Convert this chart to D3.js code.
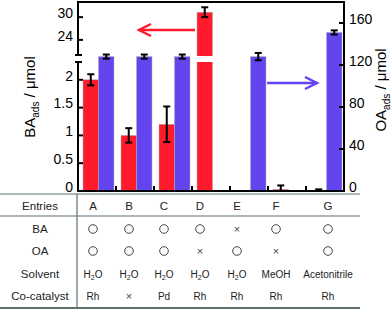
<!DOCTYPE html>
<html>
<head>
<meta charset="utf-8">
<script src="https://cdn.jsdelivr.net/npm/d3@7"></script>
<style>
  body { margin: 0; background: #fff; }
  svg { display: block; font-family: "Liberation Sans", Arial, sans-serif; }
</style>
</head>
<body>
<svg id="chart" width="392" height="311"></svg>
<script>
/***** Data *****/
var entries = ["A", "B", "C", "D", "E", "F", "G"];
var baValues = [2.0, 1.0, 1.2, 31.3, 0, 0.03, 0.01];
var baErrors = [0.1, 0.13, 0.32, 1.3, 0, 0.07, 0.02];
var oaValues = [128, 128, 128, 0, 128, 0, 151];
var oaErrors = [1.5, 1.5, 1.5, 0, 3, 0, 1.5];
var baUsed = [true, true, true, true, false, true, true];
var oaUsed = [true, true, true, false, true, false, true];
var solvents = ["H2O", "H2O", "H2O", "H2O", "H2O", "MeOH", "Acetonitrile"];
var cocatalysts = ["Rh", "×", "Pd", "Rh", "Rh", "Rh", "Rh"];
var leftTicksLow = [0, 0.5, 1, 1.5, 2];
var leftTicksHigh = [24, 30];
var rightTicks = [0, 40, 80, 120, 160];
var rowLabels = ["Entries", "BA", "OA", "Solvent", "Co-catalyst"];

var RED = "#ff1a2c", BLUE = "#6444ee", LINE = "#5e7070";

/***** Layout *****/
var plotLeft = 78, plotRight = 344, plotTop = 2, plotBottom = 191;
var breakLow = 62, breakHigh = 55;

var svg = d3.select("#chart");

var x = d3.scaleBand().domain(entries).range([plotLeft, plotRight]).padding(0);
var yLow = d3.scaleLinear().domain([0, 2.32]).range([plotBottom, breakLow]);
var yHigh = d3.scaleLinear().domain([20, 34]).range([breakHigh, plotTop]);
var yRight = d3.scaleLinear().domain([0, 180]).range([plotBottom, plotTop]);

function yBA(v) { return v > 2.32 ? yHigh(v) : yLow(v); }

var barW = 15.5;
function redX(d) { return x(d) + 5; }
function blueX(d) { return x(d) + 20.5; }

/***** Bars *****/
var g = svg.append("g");

g.selectAll("rect.ba")
    .data(entries.filter(function(d, i) { return baValues[i] > 0; }))
    .enter().append("rect")
    .attr("class", "ba")
    .attr("x", redX)
    .attr("width", barW)
    .attr("y", function(d) { return yBA(baValues[entries.indexOf(d)]); })
    .attr("height", function(d) { return plotBottom - yBA(baValues[entries.indexOf(d)]); })
    .attr("fill", RED)
    .attr("stroke", "#b0b0b0")
    .attr("stroke-width", 0.5);

g.selectAll("rect.oa")
    .data(entries.filter(function(d, i) { return oaValues[i] > 0; }))
    .enter().append("rect")
    .attr("class", "oa")
    .attr("x", blueX)
    .attr("width", barW)
    .attr("y", function(d) { return yRight(oaValues[entries.indexOf(d)]); })
    .attr("height", function(d) { return plotBottom - yRight(oaValues[entries.indexOf(d)]); })
    .attr("fill", BLUE)
    .attr("stroke", "#b0b0b0")
    .attr("stroke-width", 0.5);

// gap through the broken bar
entries.forEach(function(d, i) {
    if (baValues[i] > 2.32) {
        g.append("rect")
            .attr("x", redX(d) - 1).attr("width", barW + 2)
            .attr("y", breakHigh + 1).attr("height", breakLow - breakHigh - 1)
            .attr("fill", "#fff");
    }
});

/***** Error bars *****/
function errorBar(cx, yTop, yBot) {
    g.append("line").attr("x1", cx).attr("x2", cx).attr("y1", yTop).attr("y2", yBot)
        .attr("stroke", "#000").attr("stroke-width", 2);
    [yTop, yBot].forEach(function(yy) {
        g.append("line").attr("x1", cx - 3.5).attr("x2", cx + 3.5).attr("y1", yy).attr("y2", yy)
            .attr("stroke", "#000").attr("stroke-width", 2);
    });
}

entries.forEach(function(d, i) {
    if (baErrors[i] > 0) {
        var v = baValues[i], e = baErrors[i];
        errorBar(redX(d) + barW / 2, yBA(v + e), yBA(Math.max(0, v - e)));
    }
    if (oaErrors[i] > 0) {
        var w = oaValues[i], f = oaErrors[i];
        errorBar(blueX(d) + barW / 2, yRight(w + f) - 0.5, yRight(w - f) + 0.5);
    }
});

/***** Axes *****/
var axis = svg.append("g").attr("stroke", "#000").attr("stroke-width", 2).attr("fill", "none");
// left axis with break
axis.append("line").attr("x1", plotLeft).attr("x2", plotLeft).attr("y1", plotBottom + 1).attr("y2", breakLow);
axis.append("line").attr("x1", plotLeft).attr("x2", plotLeft).attr("y1", breakHigh).attr("y2", plotTop - 1);
[breakLow, breakHigh].forEach(function(yy) {
    axis.append("line").attr("x1", plotLeft - 3).attr("x2", plotLeft + 4).attr("y1", yy).attr("y2", yy);
});
// right, top, bottom
axis.append("line").attr("x1", plotRight).attr("x2", plotRight).attr("y1", plotTop - 1).attr("y2", plotBottom + 1);
axis.append("line").attr("x1", plotLeft).attr("x2", plotRight).attr("y1", plotTop).attr("y2", plotTop);
axis.append("line").attr("x1", plotLeft).attr("x2", plotRight).attr("y1", plotBottom).attr("y2", plotBottom);

// ticks between groups
entries.slice(1).forEach(function(d) {
    axis.append("line").attr("x1", x(d)).attr("x2", x(d)).attr("y1", plotBottom).attr("y2", plotBottom - 5);
});

var lowTicks = leftTicksLow.map(function(v) { return { v: v, y: yLow(v) }; });
var highTicks = leftTicksHigh.map(function(v) { return { v: v, y: yHigh(v) }; });
lowTicks.concat(highTicks).forEach(function(t) {
    if (t.v !== 0) {
        axis.append("line").attr("x1", plotLeft).attr("x2", plotLeft + 5).attr("y1", t.y).attr("y2", t.y);
    }
    svg.append("text").attr("x", 73).attr("y", t.y - 4).attr("dy", "0.35em")
        .attr("text-anchor", "end").attr("font-size", 14).text(t.v);
});

rightTicks.forEach(function(v) {
    var yy = yRight(v);
    if (v !== 0) {
        axis.append("line").attr("x1", plotRight).attr("x2", plotRight - 5).attr("y1", yy).attr("y2", yy);
    }
    svg.append("text").attr("x", 349).attr("y", yy - 4).attr("dy", "0.35em")
        .attr("font-size", 14).text(v);
});

/***** Axis titles *****/
function axisTitle(cx, cy, name) {
    var t = svg.append("text")
        .attr("transform", "translate(" + cx + "," + cy + ") rotate(-90)")
        .attr("text-anchor", "middle").attr("dy", "0.35em").attr("font-size", 15);
    t.append("tspan").text(name);
    t.append("tspan").attr("font-size", 10).attr("dy", 4).text("ads");
    t.append("tspan").attr("dy", -4).text(" / μmol");
}
axisTitle(30, 97, "BA");
axisTitle(381, 90, "OA");

/***** Arrows *****/
function arrow(x1, x2, yy, color) {
    var dir = x2 < x1 ? 1 : -1;
    var a = svg.append("g").attr("stroke", color).attr("stroke-width", 2.5).attr("fill", "none");
    a.append("line").attr("x1", x1).attr("x2", x2).attr("y1", yy).attr("y2", yy);
    a.append("path").attr("d", "M" + (x2 + dir * 12) + "," + (yy - 6) + "L" + x2 + "," + yy + "L" + (x2 + dir * 12) + "," + (yy + 6));
}
arrow(195, 139, 30, RED);
arrow(267, 317, 83, BLUE);

/***** Table *****/
var colX = d3.scaleOrdinal().domain(entries).range([93, 129, 164, 200, 237, 276, 328]);
var rowY = [206, 229, 251, 274, 296];
var tbl = svg.append("g");

tbl.append("line").attr("x1", 0).attr("x2", 360).attr("y1", 194).attr("y2", 194)
    .attr("stroke", LINE).attr("stroke-width", 1.2);
tbl.append("line").attr("x1", 0).attr("x2", 360).attr("y1", 216).attr("y2", 216)
    .attr("stroke", LINE).attr("stroke-width", 1.2);
tbl.append("line").attr("x1", 0).attr("x2", 360).attr("y1", 308).attr("y2", 308)
    .attr("stroke", LINE).attr("stroke-width", 2);
tbl.append("line").attr("x1", 77).attr("x2", 77).attr("y1", 194).attr("y2", 309)
    .attr("stroke", LINE).attr("stroke-width", 1.2);

rowLabels.forEach(function(r, i) {
    tbl.append("text").attr("x", 40).attr("y", rowY[i]).attr("dy", "0.35em")
        .attr("text-anchor", "middle").attr("font-size", 11.5).attr("fill", "#222").text(r);
});

tbl.selectAll("text.entry")
    .data(entries).enter().append("text")
    .attr("class", "entry")
    .attr("x", function(d) { return colX(d); })
    .attr("y", rowY[0]).attr("dy", "0.35em")
    .attr("text-anchor", "middle").attr("font-size", 11.5).attr("fill", "#222")
    .text(function(d) { return d; });

function mark(d, used, yy) {
    if (used) {
        tbl.append("circle").attr("cx", colX(d)).attr("cy", yy).attr("r", 4.3)
            .attr("fill", "none").attr("stroke", "#444").attr("stroke-width", 1);
    } else {
        tbl.append("text").attr("x", colX(d)).attr("y", yy).attr("dy", "0.35em")
            .attr("text-anchor", "middle").attr("font-size", 11).attr("fill", "#444").text("×");
    }
}

entries.forEach(function(d, i) {
    mark(d, baUsed[i], rowY[1]);
    mark(d, oaUsed[i], rowY[2]);

    var s = tbl.append("text").attr("x", colX(d)).attr("y", rowY[3]).attr("dy", "0.35em")
        .attr("text-anchor", "middle").attr("font-size", 10).attr("fill", "#222");
    if (solvents[i] === "H2O") {
        s.append("tspan").text("H");
        s.append("tspan").attr("font-size", 7).attr("dy", 2).text("2");
        s.append("tspan").attr("dy", -2).text("O");
    } else {
        s.text(solvents[i]);
    }

    tbl.append("text").attr("x", colX(d)).attr("y", rowY[4]).attr("dy", "0.35em")
        .attr("text-anchor", "middle").attr("font-size", cocatalysts[i] === "×" ? 11 : 10)
        .attr("fill", cocatalysts[i] === "×" ? "#444" : "#222")
        .text(cocatalysts[i]);
});
</script>
</body>
</html>
